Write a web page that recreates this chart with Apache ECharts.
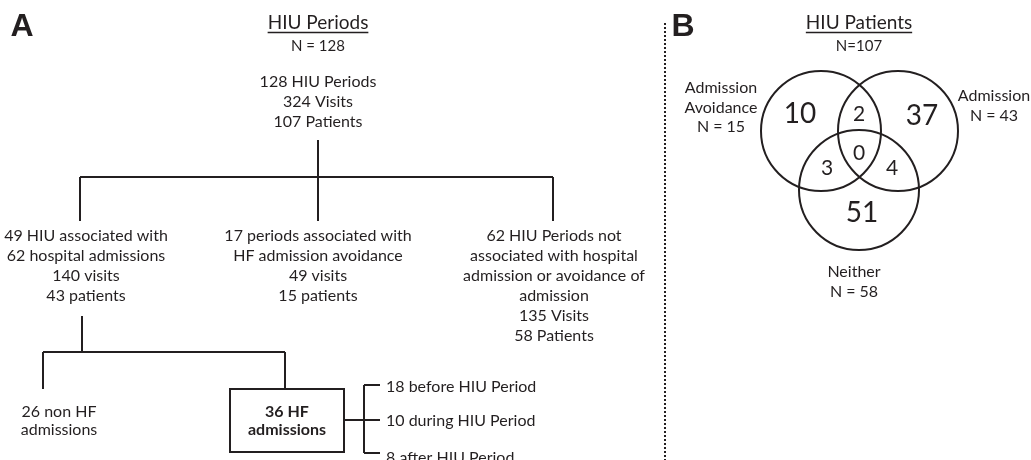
<!DOCTYPE html>
<html><head><meta charset="utf-8">
<script src="https://cdn.jsdelivr.net/npm/echarts@6/dist/echarts.min.js"></script>
<style>html,body{margin:0;padding:0;background:#fff}#c{width:1031px;height:460px}</style>
</head><body><div id="c"></div><script>
// ---------- DATA ----------
const panelLabels = ['A', 'B'];
const panelTitles = ['HIU Periods', 'HIU Patients'];
const panelTitleN = ['N = 128', 'N=107'];
const rootNode = ['128 HIU Periods', '324 Visits', '107 Patients'];
const branchNodes = [
  ['49 HIU associated with', '62 hospital admissions', '140 visits', '43 patients'],
  ['17 periods associated with', 'HF admission avoidance', '49 visits', '15 patients'],
  ['62 HIU Periods not', 'associated with hospital', 'admission or avoidance of', 'admission', '135 Visits', '58 Patients']
];
const admissionNodes = [['26 non HF', 'admissions'], ['36 HF', 'admissions']];
const hfTiming = ['18 before HIU Period', '10 during HIU Period', '8 after HIU Period'];
const vennSetNames = [['Admission', 'Avoidance'], ['Admission'], ['Neither']];
const vennSetN = [15, 43, 58];
const vennRegionNames = ['avoidOnly', 'avoid&admit', 'admitOnly', 'avoid&neither', 'all', 'admit&neither', 'neitherOnly'];
const vennRegionCounts = [10, 2, 37, 3, 0, 4, 51];

// ---------- LAYOUT (pixel-space data coordinates) ----------
const INK = '#231f20';
const FONT = 'Lato, "Open Sans", sans-serif';
const titlePos = [[318, 23], [859, 23]];
const titleNPos = [[318, 46], [859, 46]];
const panelLabelPos = [[22, 27], [683, 27]];
const rootPos = [318, 82];
const branchX = [86, 318, 554];
const branchTop = 236, lineStep = 20;
const admissionPos = [[59, 412], [287, 412]];
const timingPos = [[386, 387], [386, 421], [386, 458]];
const vennCircles = [[821, 131, 60], [898, 131, 60], [859, 190, 60]];
const vennSetLabelPos = [[721, 88], [994, 96], [854, 272]];
const vennRegionPos = [[800, 114], [859, 114], [922, 116], [827, 168], [859, 153], [892, 168], [862, 213]];
const vennRegionBig = [true, false, true, false, false, false, true];

const connectors = [
  [318, 140, 318, 177], [80, 177, 553, 177],
  [80, 177, 80, 221], [318, 177, 318, 221], [553, 177, 553, 221],
  [82, 316, 82, 352], [43, 352, 285, 352],
  [43, 352, 43, 389], [285, 352, 285, 389],
  [344, 420, 380, 420], [364, 385, 364, 453],
  [364, 385, 380, 385], [364, 453, 380, 453]
];
const boxes = [[230, 389, 344, 452]];
const dividers = [[665, 23, 665, 460]];

// ---------- build text items ----------
const texts = [];
function addText(x, y, text, size, opts) {
  texts.push(Object.assign({x, y, text, size, weight: 'normal', align: 'center', family: FONT, underline: false}, opts || {}));
}
panelLabels.forEach((t, i) => addText(panelLabelPos[i][0], panelLabelPos[i][1], t, 32, {weight: 'bold', family: '"Liberation Sans", Arial, sans-serif'}));
panelTitles.forEach((t, i) => addText(titlePos[i][0], titlePos[i][1], t, 19, {underline: true}));
panelTitleN.forEach((t, i) => addText(titleNPos[i][0], titleNPos[i][1], t, 15));
rootNode.forEach((t, i) => addText(rootPos[0], rootPos[1] + i * lineStep, t, 16));
branchNodes.forEach((lines, b) => lines.forEach((t, i) => addText(branchX[b], branchTop + i * lineStep, t, 16)));
admissionNodes.forEach((lines, b) => lines.forEach((t, i) => addText(admissionPos[b][0], admissionPos[b][1] + i * 18, t, 16, {weight: b === 1 ? 'bold' : 'normal'})));
hfTiming.forEach((t, i) => addText(timingPos[i][0], timingPos[i][1], t, 16, {align: 'left'}));
vennSetNames.forEach((names, s) => {
  const lines = names.concat(['N = ' + vennSetN[s]]);
  lines.forEach((t, i) => addText(vennSetLabelPos[s][0], vennSetLabelPos[s][1] + i * 19.5, t, 16));
});
vennRegionCounts.forEach((v, i) => addText(vennRegionPos[i][0], vennRegionPos[i][1], String(v), vennRegionBig[i] ? 28 : 21));

const measureCtx = document.createElement('canvas').getContext('2d');
function fontOf(t) { return t.weight + ' ' + t.size + 'px ' + t.family; }

const chart = echarts.init(document.getElementById('c'), null, {renderer: 'canvas'});
const segRender = (dash, width) => (params, api) => {
  const a = api.coord([api.value(0), api.value(1)]);
  const b = api.coord([api.value(2), api.value(3)]);
  return {type: 'line', shape: {x1: a[0], y1: a[1], x2: b[0], y2: b[1]},
    style: {stroke: INK, lineWidth: width, lineDash: dash, lineCap: 'butt'}};
};
chart.setOption({
  animation: false,
  backgroundColor: '#fff',
  grid: {left: 0, right: 0, top: 0, bottom: 0},
  xAxis: {type: 'value', min: 0, max: 1031, show: false},
  yAxis: {type: 'value', min: 0, max: 460, inverse: true, show: false},
  series: [
    {type: 'custom', coordinateSystem: 'cartesian2d', silent: true, data: connectors, renderItem: segRender(null, 2)},
    {type: 'custom', coordinateSystem: 'cartesian2d', silent: true, data: dividers, renderItem: segRender([2, 2], 2)},
    {type: 'custom', coordinateSystem: 'cartesian2d', silent: true, data: boxes,
      renderItem: (params, api) => {
        const a = api.coord([api.value(0), api.value(1)]);
        const b = api.coord([api.value(2), api.value(3)]);
        return {type: 'rect', shape: {x: a[0], y: a[1], width: b[0] - a[0], height: b[1] - a[1]},
          style: {fill: 'none', stroke: INK, lineWidth: 2}};
      }},
    {type: 'custom', coordinateSystem: 'cartesian2d', silent: true, data: vennCircles,
      renderItem: (params, api) => {
        const c = api.coord([api.value(0), api.value(1)]);
        const r = api.size([api.value(2), 0])[0];
        return {type: 'circle', shape: {cx: c[0], cy: c[1], r: r}, style: {fill: 'none', stroke: INK, lineWidth: 2}};
      }},
    {type: 'custom', coordinateSystem: 'cartesian2d', silent: true, data: texts.map(t => [t.x, t.y]),
      renderItem: (params, api) => {
        const t = texts[params.dataIndex];
        const p = api.coord([api.value(0), api.value(1)]);
        const children = [{type: 'text', x: p[0], y: p[1],
          style: {text: t.text, fill: INK, font: fontOf(t), align: t.align, verticalAlign: 'middle'}}];
        if (t.underline) {
          measureCtx.font = fontOf(t);
          const w = measureCtx.measureText(t.text).width;
          const uy = p[1] + t.size * 0.5;
          children.push({type: 'line', shape: {x1: p[0] - w / 2, y1: uy, x2: p[0] + w / 2, y2: uy}, style: {stroke: INK, lineWidth: 1.5}});
        }
        return {type: 'group', children};
      }}
  ]
});
</script></body></html>
